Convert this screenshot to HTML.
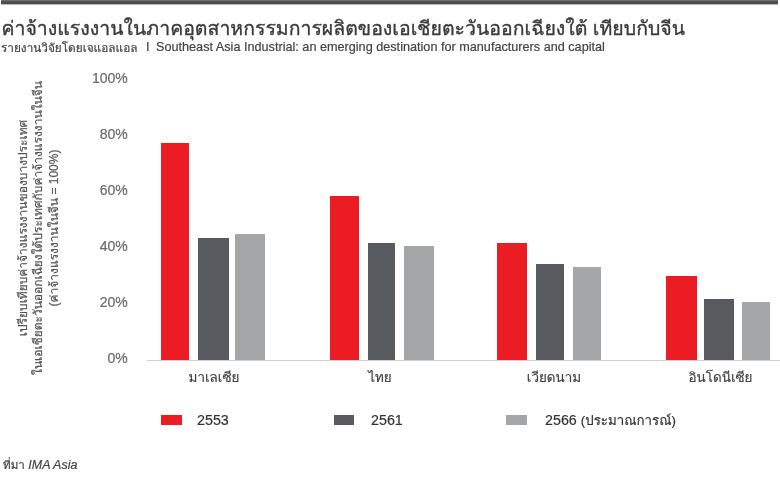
<!DOCTYPE html>
<html lang="th">
<head>
<meta charset="utf-8">
<title>ค่าจ้างแรงงานในภาคอุตสาหกรรมการผลิตของเอเชียตะวันออกเฉียงใต้ เทียบกับจีน</title>
<style>
html,body{margin:0;padding:0;background:#fff;}
body{width:780px;height:488px;position:relative;overflow:hidden;font-family:"Liberation Sans","Loma","Noto Sans Thai",sans-serif;color:#333;-webkit-text-stroke:0.2px;}
.abs{position:absolute;white-space:nowrap;line-height:1;}
.topbar{position:absolute;left:1px;top:0;width:777px;height:5px;background:linear-gradient(to bottom,#858585 0,#5a5a5a 1px,#4b4b4b 2px,#4f4f4f 3.5px,#9a9a9a 4.3px,#fff 5px);}
.title{left:1.5px;top:19.3px;font-size:19.48px;color:#3a3a3a;-webkit-text-stroke:0.35px;}
.sub{top:41.4px;font-size:12.67px;color:#444;}
.sub.th{left:1px;top:42.8px;font-size:11.8px;}
.ylab{font-size:14px;color:#6a6a6a;text-align:right;width:60px;left:67.7px;}
.bar{position:absolute;}
.r{background:#ec1c24;}
.d{background:#575b60;}
.l{background:#a4a6a8;}
.axis{position:absolute;left:147px;top:360px;width:633px;height:1px;background:#cfcfcf;}
.cat{font-size:13.45px;color:#444;transform:translateX(-50%);}
.leg{font-size:14.3px;color:#333;}
.sw{position:absolute;top:414.5px;width:20.5px;height:10px;}
.src{left:3px;top:459.2px;font-size:12.5px;color:#444;}
.yt{position:absolute;left:0;top:0;transform-origin:0 0;font-size:10px;color:#555;white-space:nowrap;line-height:1;text-align:center;}
</style>
</head>
<body>
<div class="topbar"></div>
<div class="abs title">ค่าจ้างแรงงานในภาคอุตสาหกรรมการผลิตของเอเชียตะวันออกเฉียงใต้ เทียบกับจีน</div>
<div class="abs sub th">รายงานวิจัยโดยเจแอลแอล</div>
<div class="abs sub" style="left:146px">I</div>
<div class="abs sub" style="left:156px">Southeast Asia Industrial: an emerging destination for manufacturers and capital</div>

<div class="abs ylab" style="top:70.5px">100%</div>
<div class="abs ylab" style="top:126.5px">80%</div>
<div class="abs ylab" style="top:182.5px">60%</div>
<div class="abs ylab" style="top:238.5px">40%</div>
<div class="abs ylab" style="top:294.5px">20%</div>
<div class="abs ylab" style="top:350.5px">0%</div>

<div id="ytitle" style="position:absolute;left:15.7px;top:377.7px;width:300px;transform-origin:0 0;transform:rotate(-90deg);font-size:12px;line-height:15.4px;color:#555;text-align:center;white-space:nowrap;">
<div>เปรียบเทียบค่าจ้างแรงงานของบางประเทศ</div>
<div>ในเอเชียตะวันออกเฉียงใต้ประเทศกับค่าจ้างแรงงานในจีน</div>
<div>(ค่าจ้างแรงงานในจีน = 100%)</div>
</div>

<div class="axis"></div>
<!-- group 1 -->
<div class="bar r" style="left:161px;width:28.2px;top:143px;height:217px"></div>
<div class="bar d" style="left:198px;width:30.5px;top:238px;height:122px"></div>
<div class="bar l" style="left:235px;width:30.2px;top:234.3px;height:125.7px"></div>
<!-- group 2 -->
<div class="bar r" style="left:330.3px;width:28.3px;top:196.2px;height:163.8px"></div>
<div class="bar d" style="left:367.9px;width:27.4px;top:243.2px;height:116.8px"></div>
<div class="bar l" style="left:404.1px;width:30.3px;top:246.2px;height:113.8px"></div>
<!-- group 3 -->
<div class="bar r" style="left:497.3px;width:30.2px;top:243.2px;height:116.8px"></div>
<div class="bar d" style="left:536.3px;width:28.1px;top:264.2px;height:95.8px"></div>
<div class="bar l" style="left:573.2px;width:28.1px;top:267px;height:93px"></div>
<!-- group 4 -->
<div class="bar r" style="left:666.4px;width:30.2px;top:275.8px;height:84.2px"></div>
<div class="bar d" style="left:703.5px;width:30.1px;top:299.3px;height:60.7px"></div>
<div class="bar l" style="left:742.3px;width:28px;top:302.3px;height:57.7px"></div>

<div class="abs cat" style="left:214px;top:370.5px">มาเลเซีย</div>
<div class="abs cat" style="left:380px;top:370.5px">ไทย</div>
<div class="abs cat" style="left:554px;top:370.5px">เวียดนาม</div>
<div class="abs cat" style="left:720.5px;top:370.5px">อินโดนีเซีย</div>

<div class="sw r" style="left:161px"></div>
<div class="abs leg" style="left:197px;top:413px">2553</div>
<div class="sw d" style="left:333.5px"></div>
<div class="abs leg" style="left:371px;top:413px">2561</div>
<div class="sw l" style="left:506px"></div>
<div class="abs leg" style="left:545px;top:413px">2566 <span style="font-size:13.3px">(ประมาณการณ์)</span></div>

<div class="abs src"><span style="font-size:11.6px">ที่มา</span> <i>IMA Asia</i></div>
</body>
</html>
